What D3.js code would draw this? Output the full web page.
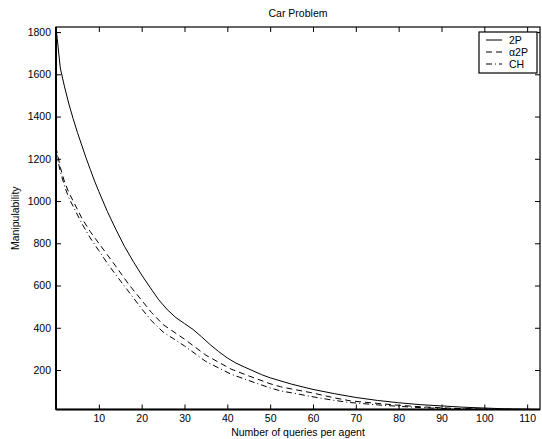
<!DOCTYPE html>
<html><head><meta charset="utf-8">
<script src="https://cdn.jsdelivr.net/npm/d3@7"></script>
<style>body{margin:0;background:#fff}svg{display:block}text{font-family:"Liberation Sans",Arial,sans-serif;fill:#000}</style>
</head><body><svg id="c" width="542" height="439"></svg>
<script>
const title = "Car Problem";
const xLabel = "Number of queries per agent";
const yLabel = "Manipulability";
const xTicks = [10,20,30,40,50,60,70,80,90,100,110];
const yTicks = [200,400,600,800,1000,1200,1400,1600,1800];
const seriesNames = ["2P","\u03B12P","CH"];

const x2P = [0,1,2,3,4,5,6,7,8,9,10,12,14,16,18,20,22,24,26,28,30,32,34,36,38,40,42,44,46,48,50,55,60,65,70,75,80,85,90,95,100,105,110,113];
const y2P = [1824,1630,1540,1460,1390,1325,1265,1205,1150,1095,1045,950,865,785,715,650,590,532,485,448,420,392,357,320,287,257,233,214,196,178,163,133,108,88,70,56,45,36,30,24,20,16,14,13];

const xA2P = [0,1,2,3,4,6,8,10,12,14,17,20,22.3,25,30,35,40.9,45,50,52.4,55,59.5,65,68.7,75,80,85,90,95,100,105,110,113];
const yA2P = [1255,1160,1090,1040,1000,920,855,800,745,690,605,530,472,415,346,270,204,172,135,121,110,93,68,54,42,33,26,21,17,15,14,13.5,13];

const xCH = [0,1,2,3,4,6,8,10,12,14,17,20,22.3,25,30,35,40.9,45,50,52.4,55,60,65,68.7,75,80,85,90,95,100,105,110,113];
const yCH = [1235,1140,1070,1015,975,895,825,765,705,650,570,490,433,380,314,240,180,150,115,101,92,73,56,46,35,28,22,18,16,14.5,13.8,13.3,13];

const series = [
  {name: seriesNames[0], xs: x2P, ys: y2P, dash: null},
  {name: seriesNames[1], xs: xA2P, ys: yA2P, dash: "6,4"},
  {name: seriesNames[2], xs: xCH, ys: yCH, dash: "6,3,1,3"}
];

const L = 56, R = 540, T = 27, B = 409.5;
const svg = d3.select("#c");
const x = d3.scaleLinear().domain([0, 113]).range([L, R]);
const y = d3.scaleLinear().domain([13, 1824]).range([B, T]);

const gx = svg.append("g").attr("transform", `translate(0,${B})`)
  .call(d3.axisBottom(x).tickValues(xTicks).tickSize(-5).tickPadding(5).tickFormat(d3.format("d")));
const gxt = svg.append("g").attr("transform", `translate(0,${T})`)
  .call(d3.axisTop(x).tickValues(xTicks).tickSize(-5).tickFormat(""));
const gy = svg.append("g").attr("transform", `translate(${L},0)`)
  .call(d3.axisLeft(y).tickValues(yTicks).tickSize(-5).tickPadding(5).tickFormat(d3.format("d")));
const gyr = svg.append("g").attr("transform", `translate(${R},0)`)
  .call(d3.axisRight(y).tickValues(yTicks).tickSize(-5).tickFormat(""));
[gx,gxt,gy,gyr].forEach(g => {
  g.select(".domain").remove();
  g.selectAll(".tick line").attr("stroke","#000").attr("stroke-width",1);
  g.selectAll("text").style("font-size","10.5px").attr("fill","#000");
});

const line = d3.line().x(d => x(d[0])).y(d => y(d[1]));
series.forEach(s => {
  svg.append("path").datum(s.xs.map((v,i) => [v, s.ys[i]]))
    .attr("d", line).attr("fill","none").attr("stroke","#000").attr("stroke-width",1)
    .attr("stroke-dasharray", s.dash);
});

svg.append("rect").attr("x",L).attr("y",T).attr("width",R-L).attr("height",B-T)
  .attr("fill","none").attr("stroke","#000").attr("stroke-width",1.2);
svg.append("line").attr("x1",L).attr("x2",L).attr("y1",T).attr("y2",B).attr("stroke","#000").attr("stroke-width",2);
svg.append("line").attr("x1",L).attr("x2",R).attr("y1",B).attr("y2",B).attr("stroke","#000").attr("stroke-width",2);

svg.append("text").attr("x",(L+R)/2).attr("y",17).attr("text-anchor","middle").style("font-size","10.5px").text(title);
svg.append("text").attr("x",(L+R)/2).attr("y",436).attr("text-anchor","middle").style("font-size","10.5px").text(xLabel);
svg.append("text").attr("transform",`translate(19,${(T+B)/2}) rotate(-90)`).attr("text-anchor","middle").style("font-size","10.5px").text(yLabel);

const lg = svg.append("g");
lg.append("rect").attr("x",479).attr("y",32).attr("width",58).attr("height",41)
  .attr("fill","#fff").attr("stroke","#000").attr("stroke-width",1.2);
series.forEach((s,i) => {
  const yy = 40 + i*12;
  lg.append("line").attr("x1",486).attr("x2",502).attr("y1",yy).attr("y2",yy)
    .attr("stroke","#000").attr("stroke-width",1).attr("stroke-dasharray", s.dash);
  lg.append("text").attr("x",509).attr("y",yy+4).style("font-size","10.5px").text(s.name);
});
</script></body></html>
